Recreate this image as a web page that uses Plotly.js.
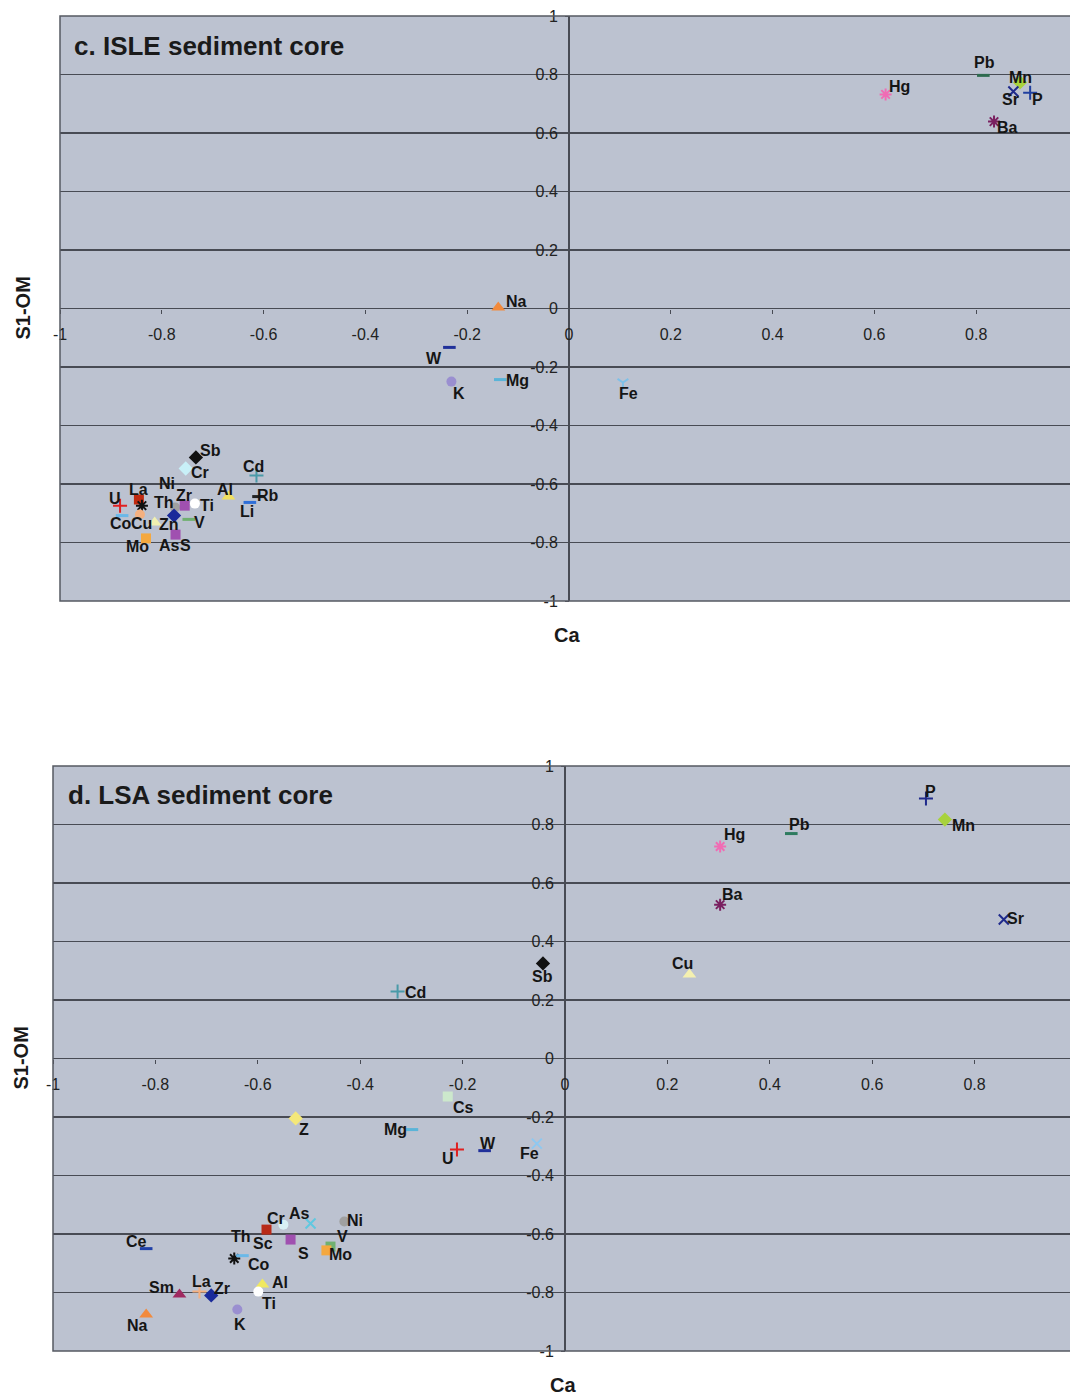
<!DOCTYPE html>
<html>
<head>
<meta charset="utf-8">
<script src="https://cdn.plot.ly/plotly-3.0.1.min.js"></script>
<style>
html,body{margin:0;padding:0;background:#fff;overflow:hidden;}
#chart{width:1090px;height:1397px;}
</style>
</head>
<body>
<div id="chart"></div>
<script>
// ---------- DATA ----------
// Panel c: ISLE sediment core
const isleElements = ["Hg","Pb","Mn","Sr","P","Ba","Na","W","K","Mg","Fe","Sb","Cr","Cd","Rb","Li","Al","U","La","Th","Ni","Zr","Ti","Co","Cu","Zn","As","V","Mo","S"];
const isleCa   = [0.622,0.814,0.886,0.873,0.906,0.835,-0.139,-0.235,-0.231,-0.135,0.106,-0.733,-0.753,-0.614,-0.610,-0.627,-0.669,-0.882,-0.845,-0.839,-0.774,-0.755,-0.735,-0.878,-0.843,-0.814,-0.776,-0.747,-0.831,-0.773];
const isleS1OM = [0.732,0.797,0.773,0.742,0.738,0.639,0.003,-0.133,-0.250,-0.243,-0.253,-0.509,-0.547,-0.571,-0.643,-0.663,-0.643,-0.674,-0.653,-0.674,-0.680,-0.674,-0.667,-0.708,-0.704,-0.732,-0.708,-0.721,-0.786,-0.773];

// Panel d: LSA sediment core
const lsaElements = ["P","Mn","Pb","Hg","Ba","Sr","Cu","Sb","Cd","Cs","Z","Mg","U","W","Fe","Ce","Sc","Th","Cr","As","Ni","S","V","Mo","Co","Sm","La","Zr","Al","Ti","K","Na"];
const lsaCa   = [0.705,0.742,0.442,0.303,0.303,0.857,0.243,-0.043,-0.327,-0.229,-0.526,-0.299,-0.211,-0.157,-0.055,-0.818,-0.583,-0.646,-0.550,-0.497,-0.431,-0.536,-0.458,-0.466,-0.630,-0.753,-0.714,-0.691,-0.591,-0.599,-0.640,-0.818];
const lsaS1OM = [0.889,0.817,0.769,0.725,0.526,0.475,0.287,0.325,0.229,-0.130,-0.205,-0.243,-0.311,-0.315,-0.291,-0.650,-0.585,-0.684,-0.568,-0.564,-0.557,-0.619,-0.643,-0.656,-0.674,-0.807,-0.797,-0.810,-0.773,-0.797,-0.858,-0.875];

const axisTicks = [-1,-0.8,-0.6,-0.4,-0.2,0,0.2,0.4,0.6,0.8,1];
const yTickText = ["-1","-0.8","-0.6","-0.4","-0.2","0","0.2","0.4","0.6","0.8","1"];
const xTickText = ["-1","-0.8","-0.6","-0.4","-0.2","0","0.2","0.4","0.6","0.8",""];
const titles = ["c. ISLE sediment core","d. LSA sediment core"];
const xTitle = "Ca";
const yTitle = "S1-OM";

// ---------- STYLES ----------
const isleSymbols = ["asterisk-open","line-ew-open","diamond","x-thin-open","cross-thin-open","asterisk-open","triangle-up","line-ew-open","circle","line-ew-open","y-down-open","diamond","diamond","cross-thin-open","line-ew-open","line-ew-open","triangle-up","cross-thin-open","square","asterisk-open","circle","square","circle","line-ew-open","circle","triangle-up","diamond","line-ew-open","square","square"];
const isleColors = ["#f06cb4","#2e6b4f","#a8d23c","#1f2a8c","#2040a0","#7a2060","#f28a3c","#20309a","#9a8fd0","#5ab4d8","#7ec0e8","#111111","#c8f0f8","#4a9aa8","#222222","#2f6fd8","#f0e060","#e02020","#c02a10","#111111","#a0a0a0","#a050b0","#ffffff","#6ab8e8","#f4b080","#f0f0b0","#1a2a9a","#70b070","#f4a840","#a050b0"];
const isleDx = [14,1,1,-3,7,13,18,-15,8,17,6,15,14,-3,9,-3,-3,-5,0,22,-8,-1,12,-1,2,14,-5,11,-9,10];
const isleDy = [-8,-13,-5,8,7,6,-6,11,12,1,11,-7,4,-9,-1,9,-7,-7,-10,-3,-24,-10,2,8,9,2,30,3,8,11];

const lsaSymbols = ["cross-thin-open","diamond","line-ew-open","asterisk-open","asterisk-open","x-thin-open","triangle-up","diamond","cross-thin-open","square","diamond","line-ew-open","cross-thin-open","line-ew-open","x-thin-open","line-ew-open","square","asterisk-open","circle","x-thin-open","circle","square","square","square","line-ew-open","triangle-up","cross-thin-open","diamond","triangle-up","circle","circle","triangle-up"];
const lsaColors = ["#1f2a8c","#a8d23c","#2e7b5f","#f06cb4","#7a2060","#1f2a8c","#f4f0b0","#111111","#4a9aa8","#cce8cc","#f4e87a","#5ab4d8","#e02020","#20309a","#8ec8f0","#2040a8","#b82a18","#111111","#d8f0f4","#60c8e0","#a0a0a0","#a050b0","#70b070","#f4a840","#6ab8e8","#a02a60","#f4b080","#1a2a9a","#f0e860","#ffffff","#9a8fd0","#f28a3c"];
const lsaDx = [5,19,8,14,12,12,-7,0,18,16,8,-16,-9,3,-7,-10,-4,7,-7,-11,11,13,12,14,17,-18,2,11,18,11,3,-9];
const lsaDy = [-7,6,-9,-12,-10,-1,-11,13,1,11,11,0,9,-7,10,-7,14,-22,-6,-10,-1,14,-10,4,9,-7,-10,-7,-2,12,15,11];

// ---------- LAYOUT GEOMETRY (pixels) ----------
const W = 1090, H = 1397;
const panels = [
  {left:60, right:1078, top:16, bottom:601, titleX:72, titleY:46, yTitleX:22, xTitleY:635},
  {left:53, right:1077, top:766, bottom:1351, titleX:66, titleY:795, yTitleX:20, xTitleY:1385}
];
const fx = p => p / W;
const fy = p => 1 - p / H;

const FONT = "Arial, 'Liberation Sans', Helvetica, sans-serif";
const BG = "#bcc2d0";
const GRID = "#484b54";

function lineW(sym){
  if (sym === "line-ew-open") return 3;
  if (sym.indexOf("open") >= 0) return 2;
  return 0;
}
function sizeOf(sym){
  if (sym === "line-ew-open") return 9;
  if (sym === "asterisk-open") return 10;
  if (sym.indexOf("thin") >= 0) return 10;
  if (sym === "y-down-open") return 9;
  if (sym === "triangle-up") return 12;
  if (sym === "diamond") return 11;
  return 10;
}

function makeTrace(xs, ys, names, syms, cols, xa, ya){
  return {
    type: "scatter", mode: "markers", x: xs, y: ys, text: names,
    xaxis: xa, yaxis: ya, hoverinfo: "text+x+y", showlegend: false,
    marker: {
      symbol: syms, color: cols, size: syms.map(sizeOf), opacity: 1,
      line: {color: cols, width: syms.map(lineW)}
    }
  };
}

function makeLabels(xs, ys, names, dx, dy, xr, yr){
  return names.map((n, i) => ({
    x: xs[i], y: ys[i], xref: xr, yref: yr, text: n, showarrow: false,
    xshift: dx[i], yshift: -dy[i], xanchor: "center", yanchor: "middle",
    font: {family: FONT, size: 16, color: "#151515", weight: "bold"}
  }));
}

function axisCommon(){
  return {
    range: [-1, 1], tickmode: "array", tickvals: axisTicks,
    ticks: "outside", ticklen: 4, tickwidth: 1, tickcolor: GRID,
    tickfont: {family: FONT, size: 16, color: "#222"},
    fixedrange: true, showline: false
  };
}

const layout = {
  width: W, height: H, margin: {l:0, r:0, t:0, b:0},
  paper_bgcolor: "#ffffff", plot_bgcolor: BG, showlegend: false,
  annotations: [], shapes: []
};

panels.forEach((p, k) => {
  const sx = k === 0 ? "" : "2";
  const xd = [fx(p.left), fx(p.right)];
  const yd = [fy(p.bottom), fy(p.top)];
  const xAx = Object.assign(axisCommon(), {
    domain: xd, anchor: "free", position: (yd[0] + yd[1]) / 2, ticktext: xTickText,
    showgrid: false, zeroline: true, zerolinecolor: GRID, zerolinewidth: 1.3,
    ticklabelstandoff: 7
  });
  const yAx = Object.assign(axisCommon(), {
    domain: yd, anchor: "free", position: (xd[0] + xd[1]) / 2, ticktext: yTickText,
    showgrid: true, gridcolor: GRID, gridwidth: 1.3,
    zeroline: true, zerolinecolor: GRID, zerolinewidth: 1.3,
    ticklabelstandoff: 4
  });
  layout["xaxis" + sx] = xAx;
  layout["yaxis" + sx] = yAx;
  layout.shapes.push({type: "rect", xref: "paper", yref: "paper",
    x0: xd[0], x1: xd[1], y0: yd[0], y1: yd[1],
    line: {color: "#555a62", width: 1.5}, layer: "above"});
  layout.annotations.push({xref: "paper", yref: "paper", x: fx(p.titleX), y: fy(p.titleY),
    xanchor: "left", yanchor: "middle", showarrow: false, text: titles[k],
    font: {family: FONT, size: 26, color: "#1a1a1a", weight: "bold"}});
  layout.annotations.push({xref: "paper", yref: "paper", x: fx(p.yTitleX),
    y: fy((p.top + p.bottom) / 2), xanchor: "center", yanchor: "middle", textangle: -90,
    showarrow: false, text: yTitle, font: {family: FONT, size: 20, color: "#1a1a1a", weight: "bold"}});
  layout.annotations.push({xref: "paper", yref: "paper",
    x: fx(p.left + (p.right - p.left) / 2 - 2), y: fy(p.xTitleY), xanchor: "center", yanchor: "middle",
    showarrow: false, text: xTitle, font: {family: FONT, size: 20, color: "#1a1a1a", weight: "bold"}});
});

const traces = [
  makeTrace(isleCa, isleS1OM, isleElements, isleSymbols, isleColors, "x", "y"),
  makeTrace(lsaCa, lsaS1OM, lsaElements, lsaSymbols, lsaColors, "x2", "y2")
];
layout.annotations = layout.annotations
  .concat(makeLabels(isleCa, isleS1OM, isleElements, isleDx, isleDy, "x", "y"))
  .concat(makeLabels(lsaCa, lsaS1OM, lsaElements, lsaDx, lsaDy, "x2", "y2"));

Plotly.newPlot("chart", traces, layout, {displayModeBar: false, staticPlot: true});
</script>
</body>
</html>
